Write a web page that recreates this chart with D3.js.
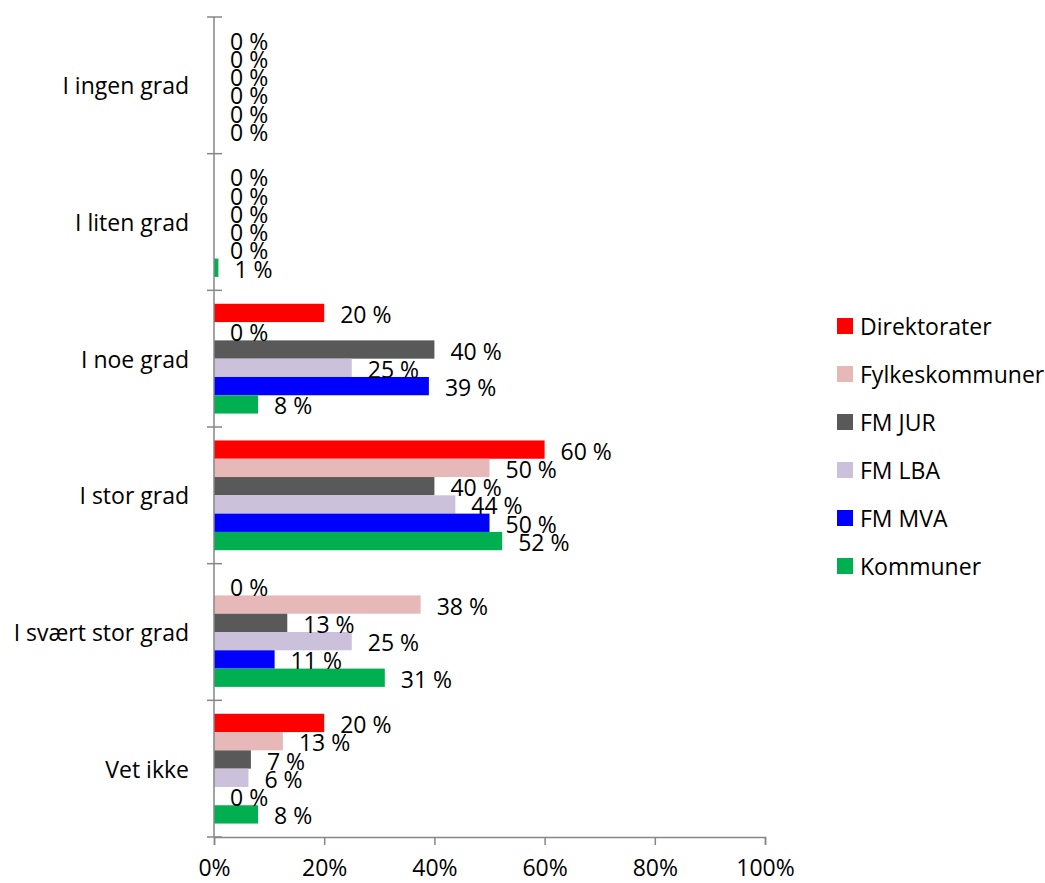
<!DOCTYPE html>
<html><head><meta charset="utf-8">
<script src="https://cdn.jsdelivr.net/npm/d3@7"></script>
<style>body{margin:0;background:#fff}svg{display:block}text{font-family:"Open Sans",sans-serif;fill:#000}</style>
</head><body><svg id="c" width="1045" height="883"></svg>
<script>
const categories = ["I ingen grad","I liten grad","I noe grad","I stor grad","I svært stor grad","Vet ikke"];
const seriesNames = ["Direktorater","Fylkeskommuner","FM JUR","FM LBA","FM MVA","Kommuner"];
const seriesColors = ["#FF0000","#E6B9B8","#595959","#CCC1DA","#0000FF","#00B050"];
const direktorater   = [0, 0, 0.20, 0.60, 0.00, 0.20];
const fylkeskommuner = [0, 0, 0.00, 0.50, 0.375, 0.125];
const fmJur          = [0, 0, 0.40, 0.40, 0.133, 0.067];
const fmLba          = [0, 0, 0.25, 0.438, 0.25, 0.0625];
const fmMva          = [0, 0, 0.39, 0.50, 0.11, 0.00];
const kommuner       = [0, 0.008, 0.08, 0.523, 0.31, 0.08];
const seriesValues = [direktorater, fylkeskommuner, fmJur, fmLba, fmMva, kommuner];
const xTicks = [0, 0.2, 0.4, 0.6, 0.8, 1.0];

(function(){
const svg = d3.select("#c");
const FS = "23px";
const pl = 214, pr = 765, pt = 17, pb = 837;
const x = d3.scaleLinear().domain([0,1]).range([pl,pr]);
const y0 = d3.scaleBand().domain(categories).range([pt,pb]).paddingInner(0).paddingOuter(0);
const y1 = d3.scaleBand().domain(seriesNames).range([0,y0.bandwidth()]).paddingInner(0).paddingOuter(0.735);
const axisColor = "#868686";

const data = [];
categories.forEach((c,ci)=>seriesNames.forEach((s,si)=>data.push({c,s,si,v:seriesValues[si][ci]})));
svg.append("g").selectAll("rect").data(data.filter(d=>d.v>0)).join("rect")
  .attr("x",x(0)).attr("y",d=>y0(d.c)+y1(d.s)).attr("width",d=>x(d.v)-x(0)).attr("height",y1.bandwidth())
  .attr("fill",d=>seriesColors[d.si]);

const xa = svg.append("g").attr("transform",`translate(0,${pb})`)
  .call(d3.axisBottom(x).tickValues(xTicks).tickFormat(d3.format(".0%")).tickSize(8).tickPadding(15));
xa.select(".domain").attr("stroke",axisColor).attr("stroke-width",1.5);
xa.selectAll(".tick line").attr("stroke",axisColor).attr("stroke-width",1.5);
xa.selectAll("text").style("font-size",FS).style("font-family","'Open Sans',sans-serif");

svg.append("line").attr("x1",pl).attr("x2",pl).attr("y1",pt).attr("y2",pb).attr("stroke",axisColor).attr("stroke-width",1.5);
const bounds = categories.map(c=>y0(c)).concat([pb]);
svg.append("g").selectAll("line").data(bounds).join("line")
  .attr("x1",pl-7).attr("x2",pl+8).attr("y1",d=>d).attr("y2",d=>d).attr("stroke",axisColor).attr("stroke-width",1.5);
svg.append("g").selectAll("text").data(categories).join("text")
  .attr("x",189).attr("y",d=>y0(d)+y0.bandwidth()/2).attr("text-anchor","end").attr("dominant-baseline","central")
  .style("font-size",FS).text(d=>d);

svg.append("g").selectAll("text").data(data).join("text")
  .attr("x",d=>x(d.v)+16).attr("y",d=>y0(d.c)+y1(d.s)+y1.bandwidth()/2+1).attr("dominant-baseline","central")
  .style("font-size",FS).text(d=>Math.round(d.v*100)+" %");

const lg = svg.append("g").selectAll("g").data(seriesNames).join("g")
  .attr("transform",(d,i)=>`translate(837,${326+i*48})`);
lg.append("rect").attr("x",0).attr("y",-8).attr("width",16).attr("height",16).attr("fill",(d,i)=>seriesColors[i]);
lg.append("text").attr("x",23).attr("y",0).attr("dominant-baseline","central").style("font-size",FS).text(d=>d);
})();
</script></body></html>
